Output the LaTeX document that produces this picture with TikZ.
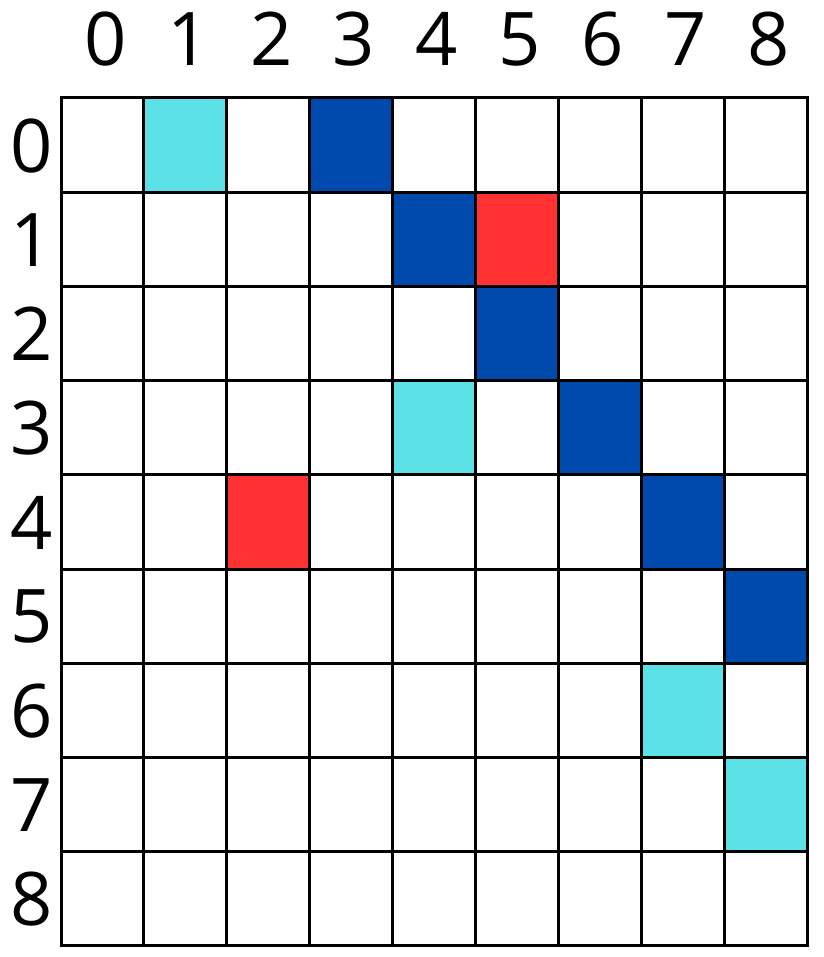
\documentclass[tikz,border=0pt]{standalone}
\usepackage{fontspec}
\setmainfont{Open Sans}
\definecolor{cyanc}{HTML}{5CE1E6}
\definecolor{bluec}{HTML}{004AAD}
\definecolor{redc}{HTML}{FF3131}
\begin{document}
\begin{tikzpicture}[x=1pt,y=-1pt,
  cell/.style={draw=black,line width=3pt},
  lab/.style={font=\fontsize{74}{80}\selectfont,inner sep=0pt,anchor=center}]
\useasboundingbox (0,0) rectangle (823,957);
\def\cw{82.89}
\def\ch{94.22}
\def\xo{61}
\def\yo{98}
% filled cells: col,row,color
\foreach \c/\r/\col in {1/0/cyanc,3/0/bluec,4/1/bluec,5/1/redc,5/2/bluec,4/3/cyanc,6/3/bluec,2/4/redc,7/4/bluec,8/5/bluec,7/6/cyanc,8/7/cyanc}{
  \fill[\col] (\xo+\c*\cw,\yo+\r*\ch) rectangle (\xo+\c*\cw+\cw,\yo+\r*\ch+\ch);
}
\foreach \i in {0,...,9}{
  \draw[line width=3pt] (\xo+\i*\cw,\yo-1.5) -- (\xo+\i*\cw,\yo+9*\ch+1.5);
  \draw[line width=3pt] (\xo-1.5,\yo+\i*\ch) -- (\xo+9*\cw+1.5,\yo+\i*\ch);
}
\foreach \i in {0,...,8}{
  \node[lab] (top\i) at (\xo+\i*\cw+0.5*\cw+3,39) {\i};
  \node[lab] (left\i) at (32,\yo+\i*\ch+0.5*\ch+0.5) {\i};
}
\end{tikzpicture}
\end{document}
